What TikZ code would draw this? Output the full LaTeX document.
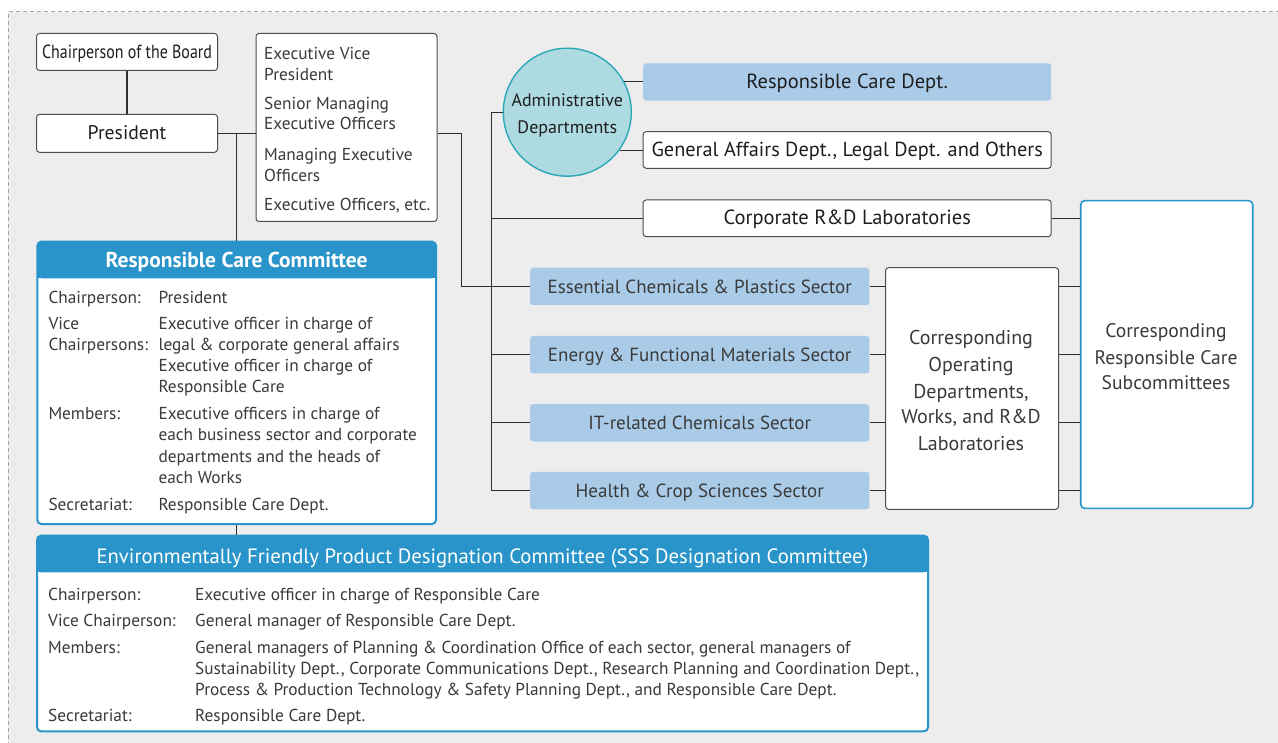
\documentclass[tikz,border=0pt]{standalone}
\usepackage{fontspec}
\setmainfont{PT Sans}
\definecolor{bgc}{HTML}{EDEDED}
\definecolor{dashc}{HTML}{A5A5A5}
\definecolor{lnc}{HTML}{2E2E2E}
\definecolor{bxc}{HTML}{4D4D4D}
\definecolor{lblue}{HTML}{A9CBE8}
\definecolor{cblue}{HTML}{2994CA}
\definecolor{tealf}{HTML}{AEDAE2}
\definecolor{teals}{HTML}{2BA8B8}
\definecolor{txtc}{HTML}{1E1E1E}
\definecolor{gtxt}{HTML}{3A3A3A}
\newcommand\fbodytxt{\fontsize{17.3}{20}\selectfont}
\newcommand\fboxtxt{\fontsize{20.5}{24}\selectfont}
\newcommand\fsectxt{\fontsize{19}{22}\selectfont}
\newcommand\fopertxt{\fontsize{20}{23}\selectfont}
\tikzset{
  wbox/.style={draw=bxc, line width=1pt, fill=white, rounded corners=3pt, inner sep=0pt, text=txtc, text depth=0pt},
  bbox/.style={fill=lblue, rounded corners=3pt, inner sep=0pt, text=gtxt, text depth=0pt},
  conn/.style={draw=lnc, line width=1.3pt},
  lbl/.style={anchor=base west, inner sep=0pt, text=gtxt, font=\fbodytxt},
  ctr/.style={anchor=base, inner sep=0pt, text=gtxt},
  comm/.style={draw=cblue, line width=2pt, fill=white, rounded corners=4pt, inner sep=0pt},
  commh/.style={fill=cblue, rounded corners=4pt, inner sep=0pt, text=white, text depth=0pt}
}
\begin{document}
\begin{tikzpicture}[x=1pt,y=-1pt]
\useasboundingbox (0,0) rectangle (1278,743);
\clip (0,0) rectangle (1278,743);
\fill[white] (0,0) rectangle (1278,743);
\fill[bgc] (8,12) rectangle (1300,760);
\draw[dashc, line width=1pt, dash pattern=on 4pt off 3pt] (8,760) -- (8,12) -- (1300,12);

% top-left nodes
\node[wbox, minimum width=181pt, minimum height=37pt, text height=13pt, font=\fsectxt] (chair) at (127,52) {\scalebox{0.84}[1]{Chairperson of the Board}};
\node[wbox, minimum width=181pt, minimum height=38pt, text height=13pt, font=\fontsize{19.7}{22}\selectfont] (pres) at (127,133.3) {President};
\node[wbox, minimum width=181pt, minimum height=188pt] (exec) at (346.5,127.5) {};
\node[lbl] (e1) at (264,60) {Executive Vice};
\node[lbl] (e2) at (264,80.7) {President};
\node[lbl] (e3) at (264,110) {Senior Managing};
\node[lbl] (e4) at (264,130) {Executive Officers};
\node[lbl] (e5) at (264,160.7) {Managing Executive};
\node[lbl] (e6) at (264,181.7) {Officers};
\node[lbl] (e7) at (264,211) {Executive Officers, etc.};

% admin circle
\node[circle, draw=teals, line width=1.4pt, fill=tealf, minimum size=128pt, inner sep=0pt] (admin) at (567.3,112.2) {};
\node[ctr, text=txtc, font=\fontsize{18}{21}\selectfont] (a1) at (567.3,106.7) {Administrative};
\node[ctr, text=txtc, font=\fontsize{18}{21}\selectfont] (a2) at (567.3,134) {Departments};

% right boxes
\node[bbox, minimum width=408pt, minimum height=37.4pt, text height=14pt, text=txtc, font=\fboxtxt] (rcd) at (847.2,82) {Responsible Care Dept.};
\node[wbox, minimum width=408pt, minimum height=36.6pt, text height=13pt, font=\fontsize{20.3}{24}\selectfont] (ga) at (847.2,150) {General Affairs Dept., Legal Dept. and Others};
\node[wbox, minimum width=408pt, minimum height=36.7pt, text height=13.4pt, font=\fboxtxt] (crd) at (847.2,218.3) {Corporate R\&D Laboratories};

% sectors
\node[bbox, minimum width=339.3pt, minimum height=37.5pt, text height=13.6pt, font=\fsectxt] (s1) at (699.7,286.5) {Essential Chemicals \& Plastics Sector};
\node[bbox, minimum width=339.3pt, minimum height=37.5pt, text height=13.6pt, font=\fsectxt] (s2) at (699.7,354.7) {Energy \& Functional Materials Sector};
\node[bbox, minimum width=339.3pt, minimum height=37.5pt, text height=13.6pt, font=\fsectxt] (s3) at (699.7,422.8) {IT-related Chemicals Sector};
\node[bbox, minimum width=339.3pt, minimum height=37.5pt, text height=13.6pt, font=\fsectxt] (s4) at (699.7,490.5) {Health \& Crop Sciences Sector};

% operating departments
\node[wbox, minimum width=173pt, minimum height=241.6pt] (oper) at (972.1,388.5) {};
\node[ctr, font=\fopertxt] (o1) at (971,345) {Corresponding};
\node[ctr, font=\fopertxt] (o2) at (971,371.7) {Operating};
\node[ctr, font=\fopertxt] (o3) at (971,398.3) {Departments,};
\node[ctr, font=\fopertxt] (o4) at (971,424) {Works, and R\&D};
\node[ctr, font=\fopertxt] (o5) at (971,450) {Laboratories};

% subcommittees
\node[draw=cblue, line width=1.6pt, fill=white, rounded corners=4pt, inner sep=0pt, minimum width=172pt, minimum height=307.6pt] (subc) at (1166.7,354.5) {};
\node[ctr, font=\fontsize{19.6}{22}\selectfont] (c1) at (1166,337.3) {Corresponding};
\node[ctr, font=\fontsize{19.6}{22}\selectfont] (c2) at (1166,364.3) {Responsible Care};
\node[ctr, font=\fontsize{19.6}{22}\selectfont] (c3) at (1166,389.3) {Subcommittees};

% Responsible Care Committee
\node[comm, minimum width=398.7pt, minimum height=282.3pt] (rcc) at (236.65,382.85) {};
\fill[cblue] (37.3,262) rectangle (436,278.3);
\node[commh, minimum width=398.7pt, minimum height=36.6pt, text height=14.5pt, font=\bfseries\fontsize{21.5}{24}\selectfont] (rcch) at (236.65,260) {Responsible Care Committee};
\node[lbl] (r1a) at (48.3,303.3) {Chairperson:};
\node[lbl] (r1b) at (158.3,303.3) {President};
\node[lbl] (r2a) at (48.3,329.3) {Vice};
\node[lbl] (r2b) at (158.3,329.3) {Executive officer in charge of};
\node[lbl] (r3a) at (48.3,350.7) {Chairpersons:};
\node[lbl] (r3b) at (158.3,350.7) {legal \& corporate general affairs};
\node[lbl] (r4b) at (158.3,371.7) {Executive officer in charge of};
\node[lbl] (r5b) at (158.3,392.7) {Responsible Care};
\node[lbl] (r6a) at (48.3,420) {Members:};
\node[lbl] (r6b) at (158.3,420) {Executive officers in charge of};
\node[lbl] (r7b) at (158.3,440.7) {each business sector and corporate};
\node[lbl] (r8b) at (158.3,462.3) {departments and the heads of};
\node[lbl] (r9b) at (158.3,483.3) {each Works};
\node[lbl] (r10a) at (48.3,510.7) {Secretariat:};
\node[lbl] (r10b) at (158.3,510.7) {Responsible Care Dept.};

% EFPD committee
\node[comm, minimum width=891pt, minimum height=195.6pt] (efpd) at (482.5,633.5) {};
\fill[cblue] (37,556) rectangle (928,572.3);
\node[commh, minimum width=891pt, minimum height=36.6pt, text height=18pt, font=\fontsize{20.7}{24}\selectfont] (efpdh) at (482.5,554) {Environmentally Friendly Product Designation Committee (SSS Designation Committee)};
\node[lbl] (f1a) at (48,600) {Chairperson:};
\node[lbl] (f1b) at (195,600) {Executive officer in charge of Responsible Care};
\node[lbl] (f2a) at (48,626) {Vice Chairperson:};
\node[lbl] (f2b) at (195,626) {General manager of Responsible Care Dept.};
\node[lbl] (f3a) at (48,653.3) {Members:};
\node[lbl] (f3b) at (195,653.3) {General managers of Planning \& Coordination Office of each sector, general managers of};
\node[lbl] (f4b) at (195,674) {Sustainability Dept., Corporate Communications Dept., Research Planning and Coordination Dept.,};
\node[lbl] (f5b) at (195,695) {Process \& Production Technology \& Safety Planning Dept., and Responsible Care Dept.};
\node[lbl] (f6a) at (48,721) {Secretariat:};
\node[lbl] (f6b) at (195,721) {Responsible Care Dept.};

% connectors
\coordinate (j1) at (236.7,133.3);
\coordinate (j2) at (461.7,133.3);
\coordinate (j3) at (491.7,112.2);
\draw[conn] (chair.south) -- (pres.north);
\draw[conn] (pres.east) -- (pres.east -| exec.west);
\draw[conn] (j1) -- (j1 |- rcc.north);
\draw[conn] (rcc.south -| j1) -- (efpd.north -| j1);
\draw[conn] (exec.east |- j2) -- (j2) |- (s1.west);
\draw[conn] (admin.west) -- (j3) -- (j3 |- s4.west) -- (s4.west);
\draw[conn] (j3 |- crd.west) -- (crd.west);
\draw[conn] (j3 |- s2.west) -- (s2.west);
\draw[conn] (j3 |- s3.west) -- (s3.west);
\draw[conn] (admin.28) -- (admin.28 -| rcd.west);
\draw[conn] (admin.-36) -- (admin.-36 -| ga.west);
\draw[conn] (crd.east) -- (crd.east -| subc.west);
\foreach \s in {s1,s2,s3,s4}{
  \draw[conn] (\s.east) -- (\s.east -| oper.west);
  \draw[conn] (oper.east |- \s.east) -- (subc.west |- \s.east);
}
\end{tikzpicture}
\end{document}
